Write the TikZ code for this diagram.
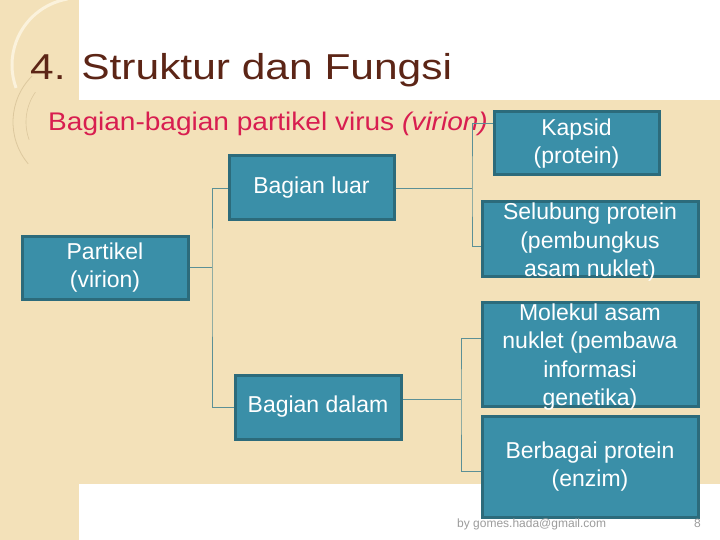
\documentclass[tikz,border=0pt]{standalone}
\usepackage{fontspec}
\setmainfont{Liberation Sans}
\newfontfamily\titlefont[FakeStretch=1.18]{Liberation Sans}
\newfontfamily\subfont[FakeStretch=1.1]{Liberation Sans}
\definecolor{boxc}{HTML}{3A8FA8}
\definecolor{edgec}{HTML}{2C6B7B}
\definecolor{linkc}{HTML}{5B9096}
\definecolor{beigec}{HTML}{F3E1B9}
\definecolor{titlec}{HTML}{5C2516}
\definecolor{subc}{HTML}{D81E50}
\definecolor{footc}{HTML}{9C9C9C}
\definecolor{ringc}{HTML}{FBF2DC}
\definecolor{ringd}{HTML}{DCC89E}

\begin{document}
\begin{tikzpicture}[x=1pt,y=-1pt,
      box/.style={draw=edgec,fill=boxc,line width=3pt,text=white,align=center,inner sep=0pt,
        font=\fontsize{23}{28.5}\selectfont},
      link/.style={draw=linkc,line width=0.9pt},
      foot/.style={inner sep=0pt,text=footc,font=\fontsize{12}{14}\selectfont}]
    \useasboundingbox (0,0) rectangle (720,540);
    \fill[beigec] (0,0) rectangle (720,540);
    \draw[ringc,line width=3pt] (79,65) ++(260:67) arc[start angle=260,end angle=160,radius=67];
    \draw[ringd,line width=0.8pt] (78,122) ++(225:65) arc[start angle=225,end angle=140,radius=65];
    \draw[ringd,line width=0.6pt] (78,122) ++(215:52) arc[start angle=215,end angle=160,radius=52];
    \fill[white] (79,0) rectangle (720,100);
    \fill[white] (79,484) rectangle (720,540);
    \node[anchor=base west,inner sep=0pt,text=titlec,font=\titlefont\fontsize{36}{40}\selectfont] (title) at (30,80) {4. Struktur dan Fungsi};
    \node[anchor=base west,inner sep=0pt,text=subc,font=\subfont\fontsize{25.5}{30}\selectfont] (sub) at (48,131) {Bagian-bagian partikel virus \textit{(virion)}};
    \node[box,minimum width=166,minimum height=63] (par) at (105,267.5) {Partikel\\(virion)};
    \node[box,minimum width=165,minimum height=64] (luar) at (311.5,188) {Bagian luar};
    \node[box,minimum width=166,minimum height=64] (dalam) at (318,407) {Bagian dalam};
    \node[box,minimum width=165,minimum height=63] (kap) at (576.5,143.5) {Kapsid\\(protein)};
    \node[box,inner ysep=-6pt,text height=80pt,minimum width=216,minimum height=74] (sel) at (590,239) {Selubung protein\\(pembungkus\\asam nuklet)};
    \node[box,inner ysep=-6pt,text height=108pt,minimum width=216,minimum height=104] (mol) at (590,354) {Molekul asam\\nuklet (pembawa\\informasi\\genetika)};
    \node[box,minimum width=216,minimum height=101] (enz) at (590,466.5) {Berbagai protein\\(enzim)};
    \draw[link] (par.east) -- ++(22.5,0) coordinate (j1);
    \draw[link] (luar.west) -| (j1) |- (dalam.west);
    \draw[link] (luar.east) -- ++(76.5,0) coordinate (j2);
    \draw[link] ([yshift=20pt]kap.west) -| (j2) |- ([yshift=-7pt]sel.west);
    \draw[link] ([yshift=8pt]dalam.east) -- ++(58.5,0) coordinate (j3);
    \draw[link] ([yshift=16pt]mol.west) -| (j3) |- ([yshift=-4.5pt]enz.west);
    \node[foot,anchor=base west] (mail) at (457,527) {by gomes.hada@gmail.com};
    \node[foot,anchor=base east] (page) at (701,527) {8};
  \end{tikzpicture}
\end{document}
